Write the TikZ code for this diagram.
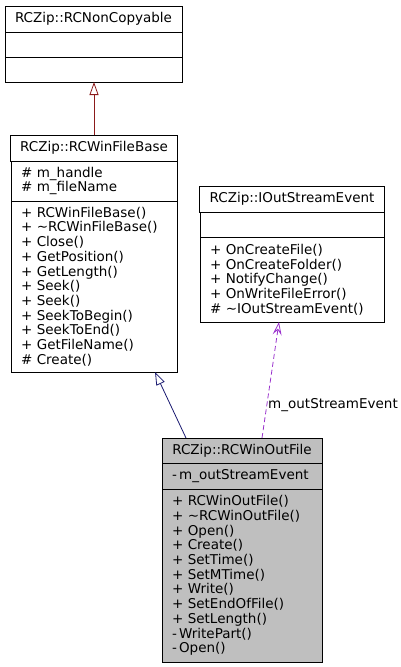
\documentclass[tikz,border=0pt]{standalone}
\usepackage{fontspec}
\setmainfont{DejaVu Sans}
\usepackage{xcolor}
\usetikzlibrary{arrows.meta,positioning}
\definecolor{privred}{HTML}{8B1A1A}
\definecolor{pubblue}{HTML}{191970}
\definecolor{useorchid}{HTML}{9A32CD}
\definecolor{curgrey}{HTML}{BFBFBF}

\begin{document}
\begin{tikzpicture}[x=1pt,y=-1pt,
    part/.style={draw,line width=0.8pt,outer sep=0pt,inner xsep=10pt,inner ysep=1pt,font=\fontsize{13.5}{14.7}\selectfont},
    title/.style={part,align=center},
    members/.style={part,align=left},
    inherit/.style={-{Triangle[open,length=13pt,width=9pt]},line width=0.8pt},
    uses/.style={-{Stealth[open,length=13pt,width=9pt,inset=5pt]},line width=0.8pt,useorchid,dash pattern=on 5pt off 3pt}]
  \useasboundingbox (0,0) rectangle (401,667);
  % RCNonCopyable
  \node[title,minimum width=177pt,minimum height=26pt] (ncT) at (93.5,19) {RCZip::RCNonCopyable};
  \node[members,minimum width=177pt,minimum height=25pt,text width=157pt,below=0pt of ncT] (ncA) {};
  \node[members,minimum width=177pt,minimum height=25pt,text width=157pt,below=0pt of ncA] (ncO) {};
  % RCWinFileBase
  \node[title,minimum width=166pt,minimum height=26pt] (wfbT) at (94,148) {RCZip::RCWinFileBase};
  \node[members,minimum width=166pt,minimum height=40pt,text width=146pt,below=0pt of wfbT] (wfbA) {\# m\_handle\\\# m\_fileName};
  \node[members,minimum width=166pt,minimum height=171pt,text width=146pt,below=0pt of wfbA] (wfbO) {+ RCWinFileBase()\\+ \textasciitilde RCWinFileBase()\\+ Close()\\+ GetPosition()\\+ GetLength()\\+ Seek()\\+ Seek()\\+ SeekToBegin()\\+ SeekToEnd()\\+ GetFileName()\\\# Create()};
  % IOutStreamEvent
  \node[title,minimum width=184pt,minimum height=26pt] (iosT) at (292,199) {RCZip::IOutStreamEvent};
  \node[members,minimum width=184pt,minimum height=25pt,text width=164pt,below=0pt of iosT] (iosA) {};
  \node[members,minimum width=184pt,minimum height=85pt,text width=164pt,below=0pt of iosA] (iosO) {+ OnCreateFile()\\+ OnCreateFolder()\\+ NotifyChange()\\+ OnWriteFileError()\\\# \textasciitilde IOutStreamEvent()};
  % RCWinOutFile
  \node[title,fill=curgrey,minimum width=160pt,minimum height=25pt] (wofT) at (242,450.5) {RCZip::RCWinOutFile};
  \node[members,fill=curgrey,minimum width=160pt,minimum height=26pt,text width=140pt,below=0pt of wofT] (wofA) {-\,m\_outStreamEvent};
  \node[members,fill=curgrey,minimum width=160pt,minimum height=173pt,text width=140pt,below=0pt of wofA] (wofO) {+ RCWinOutFile()\\+ \textasciitilde RCWinOutFile()\\+ Open()\\+ Create()\\+ SetTime()\\+ SetMTime()\\+ Write()\\+ SetEndOfFile()\\+ SetLength()\\-\,WritePart()\\-\,Open()};
  % connectors
  \draw[inherit,privred] (wfbT.north) -- (wfbT.north |- ncO.south);
  \draw[inherit,pubblue] ([xshift=-56pt]wofT.north) -- ([xshift=61pt]wfbO.south);
  \draw[uses] ([xshift=20pt]wofT.north) -- node[pos=0.285,anchor=west,inner sep=1pt,text=black,font=\fontsize{13.5}{14.7}\selectfont] (useLbl) {m\_outStreamEvent} ([xshift=-13pt]iosO.south);
\end{tikzpicture}
\end{document}
